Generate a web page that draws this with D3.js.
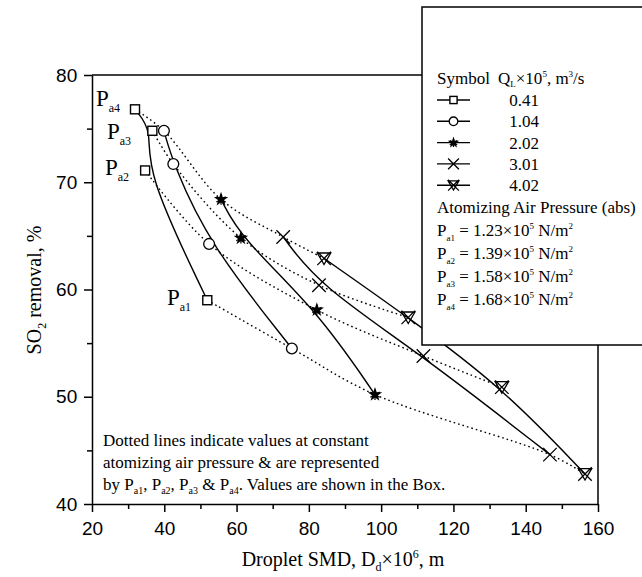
<!DOCTYPE html>
<html>
<head>
<meta charset="utf-8">
<script src="https://cdn.jsdelivr.net/npm/d3@7"></script>
<style>
  body { margin: 0; background: #fff; }
  svg { display: block; }
</style>
</head>
<body>
<div class="canvas"></div>
<script>
// liquid flow rate series (Q_L x 10^5, m3/s)
var flowRates = ["0.41", "1.04", "2.02", "3.01", "4.02"]
var markerTypes = ["square", "circle", "star", "cross", "hourglass"]
// pressure levels, index 0..3 = Pa1..Pa4
var pressureNames = ["a1", "a2", "a3", "a4"]
var pressureValues = ["1.23", "1.39", "1.58", "1.68"]

// droplet SMD (x) and SO2 removal (y), [series][Pa1..Pa4]
var smd = [
  [51.9, 34.7, 36.7, 31.9],
  [75.3, 52.4, 42.5, 39.9],
  [98.3, 82.2, 61.2, 55.7],
  [146.7, 111.7, 82.8, 72.9],
  [156.4, 133.4, 107.5, 84.2]
]
var removal = [
  [59.0, 71.1, 74.8, 76.8],
  [54.5, 64.25, 71.7, 74.8],
  [50.2, 58.1, 64.8, 68.4],
  [44.6, 53.8, 60.4, 64.9],
  [42.8, 50.9, 57.4, 62.9]
]

var xTicks = [20, 40, 60, 80, 100, 120, 140, 160]
var yTicks = [40, 50, 60, 70, 80]

var W = 642, H = 577
var svg = d3.select(".canvas").append("svg").attr("width", W).attr("height", H)

var x = d3.scaleLinear().domain([20, 160]).range([92, 598])
var y = d3.scaleLinear().domain([40, 80]).range([504, 75])

var serif = "'Liberation Serif', 'Times New Roman', serif"
var sans = "'Liberation Sans', Arial, sans-serif"

// frame top + right
svg.append("line").attr("x1", x(20)).attr("x2", x(160)).attr("y1", y(80)).attr("y2", y(80))
  .attr("stroke", "black").attr("stroke-width", 1.5)
svg.append("line").attr("x1", x(160)).attr("x2", x(160)).attr("y1", y(80)).attr("y2", y(40))
  .attr("stroke", "black").attr("stroke-width", 1.5)

// bottom axis
var xAxis = svg.append("g").attr("transform", "translate(0," + y(40) + ")")
  .call(d3.axisBottom(x).tickValues(xTicks).tickSize(8).tickSizeOuter(0).tickFormat(d3.format("d")))
xAxis.selectAll(".tick text").attr("font-family", sans).attr("font-size", 19).attr("dy", "1.05em")
svg.append("g").attr("transform", "translate(0," + y(40) + ")")
  .call(d3.axisBottom(x).tickValues(d3.range(30, 160, 20)).tickSize(5).tickFormat(""))
  .call(g => g.select(".domain").remove())

// left axis
var yAxis = svg.append("g").attr("transform", "translate(" + x(20) + ",0)")
  .call(d3.axisLeft(y).tickValues(yTicks).tickSize(8).tickSizeOuter(0))
yAxis.selectAll(".tick text").attr("font-family", sans).attr("font-size", 19).attr("dx", "-0.2em")
svg.append("g").attr("transform", "translate(" + x(20) + ",0)")
  .call(d3.axisLeft(y).tickValues([45, 55, 65, 75]).tickSize(5).tickFormat(""))
  .call(g => g.select(".domain").remove())

svg.selectAll(".domain, .tick line").attr("stroke-width", 1.5)

// axis titles
var xt = svg.append("text").attr("x", 343).attr("y", 566).attr("text-anchor", "middle")
  .attr("font-family", serif).attr("font-size", 20)
xt.append("tspan").text("Droplet SMD, D")
xt.append("tspan").attr("font-size", 12).attr("dy", 5).text("d")
xt.append("tspan").attr("dy", -5).text("\u00d710")
xt.append("tspan").attr("font-size", 12).attr("dy", -8).text("6")
xt.append("tspan").attr("dy", 8).text(", m")

var yt = svg.append("text").attr("transform", "translate(41,290) rotate(-90)").attr("text-anchor", "middle")
  .attr("font-family", serif).attr("font-size", 20)
yt.append("tspan").text("SO")
yt.append("tspan").attr("font-size", 12).attr("dy", 5).text("2")
yt.append("tspan").attr("dy", -5).text(" removal, %")

// constant-pressure dotted curves
var dotted = d3.line().x(d => x(d[0])).y(d => y(d[1])).curve(d3.curveCatmullRom)
pressureNames.forEach(function(p, j) {
  var pts = flowRates.map((f, i) => [smd[i][j], removal[i][j]])
  svg.append("path").attr("d", dotted(pts)).attr("fill", "none")
    .attr("stroke", "black").attr("stroke-width", 1.4).attr("stroke-dasharray", "1.6,3")
})

// solid fitted curves per flow rate
var solid = d3.line().x(d => x(d[0])).y(d => y(d[1])).curve(d3.curveBasis)
flowRates.forEach(function(f, i) {
  var pts = pressureNames.map((p, j) => [smd[i][j], removal[i][j]]).reverse()
  svg.append("path").attr("d", solid(pts)).attr("fill", "none")
    .attr("stroke", "black").attr("stroke-width", 1.4)
})

// marker drawing
function drawMarker(g, type, s) {
  if (type == "square") {
    g.append("rect").attr("x", -s).attr("y", -s).attr("width", 2 * s).attr("height", 2 * s)
      .attr("fill", "white").attr("stroke", "black").attr("stroke-width", 1.4)
  } else if (type == "circle") {
    g.append("circle").attr("r", s * 1.2).attr("fill", "white").attr("stroke", "black").attr("stroke-width", 1.3)
  } else if (type == "star") {
    g.append("path").attr("d", d3.symbol(d3.symbolStar, s * s * 3.2)()).attr("fill", "black")
    g.append("path").attr("d", d3.symbol(d3.symbolAsterisk, s * s * 4)()).attr("stroke", "black")
      .attr("stroke-width", 1.2)
  } else if (type == "cross") {
    g.append("path").attr("d", "M" + (-s * 1.5) + "," + (-s * 1.5) + "L" + (s * 1.5) + "," + (s * 1.5)
      + "M" + (-s * 1.5) + "," + (s * 1.5) + "L" + (s * 1.5) + "," + (-s * 1.5))
      .attr("stroke", "black").attr("stroke-width", 1.3)
  } else if (type == "hourglass") {
    var k = s * 1.5
    g.append("path").attr("d", "M" + (-k) + "," + (-k) + "L" + k + "," + k
      + "M" + (-k) + "," + k + "L" + k + "," + (-k)
      + "M" + (-k) + "," + (-k * 0.8) + "L" + k + "," + (-k * 0.8) + "L0," + (k * 0.9) + "Z")
      .attr("fill", "none").attr("stroke", "black").attr("stroke-width", 1.3)
  }
}

flowRates.forEach(function(f, i) {
  pressureNames.forEach(function(p, j) {
    var g = svg.append("g").attr("transform", "translate(" + x(smd[i][j]) + "," + y(removal[i][j]) + ")")
    drawMarker(g, markerTypes[i], 4.5)
  })
})

// pressure labels next to the square series
function pLabel(px, py, sub) {
  var t = svg.append("text").attr("x", px).attr("y", py).attr("font-family", serif).attr("font-size", 23)
  t.append("tspan").text("P")
  t.append("tspan").attr("font-size", 12).attr("dy", 6).text(sub)
}
pLabel(96, 106, "a4")
pLabel(107, 139, "a3")
pLabel(105, 175, "a2")
pLabel(167, 305, "a1")

// note text
var noteX = 103
svg.append("text").attr("x", noteX).attr("y", 446).attr("font-family", serif).attr("font-size", 17)
  .text("Dotted lines indicate values at constant")
svg.append("text").attr("x", noteX).attr("y", 468).attr("font-family", serif).attr("font-size", 17)
  .text("atomizing air pressure & are represented")
var n3 = svg.append("text").attr("x", noteX).attr("y", 490).attr("font-family", serif).attr("font-size", 17)
n3.append("tspan").text("by P")
pressureNames.forEach(function(p, j) {
  n3.append("tspan").attr("font-size", 10).attr("dy", 4).text(p)
  var after = j < 2 ? ", P" : (j == 2 ? " & P" : ". Values are shown in the Box.")
  n3.append("tspan").attr("dy", -4).text(after)
})

// legend box
svg.append("rect").attr("x", 422).attr("y", 7).attr("width", 240).attr("height", 338)
  .attr("fill", "white").attr("stroke", "black").attr("stroke-width", 1.5)

var lg = svg.append("g").attr("font-family", serif).attr("font-size", 17)
lg.append("text").attr("x", 437).attr("y", 84).text("Symbol")
var qh = lg.append("text").attr("x", 498).attr("y", 84)
qh.append("tspan").text("Q")
qh.append("tspan").attr("font-size", 9).attr("dy", 3).text("L")
qh.append("tspan").attr("dy", -3).text("\u00d710")
qh.append("tspan").attr("font-size", 9).attr("dy", -7).text("5")
qh.append("tspan").attr("dy", 7).text(", m")
qh.append("tspan").attr("font-size", 9).attr("dy", -7).text("3")
qh.append("tspan").attr("dy", 7).text("/s")

var rowY = d3.scaleLinear().domain([0, 1]).range([100, 121.3])
flowRates.forEach(function(f, i) {
  var cy = rowY(i)
  lg.append("line").attr("x1", 437).attr("x2", 470).attr("y1", cy).attr("y2", cy)
    .attr("stroke", "black").attr("stroke-width", 1.4)
  var g = lg.append("g").attr("transform", "translate(453.5," + cy + ")")
  drawMarker(g, markerTypes[i], 3.6)
  lg.append("text").attr("x", 524).attr("y", cy + 6).attr("text-anchor", "middle").text(f)
})
lg.append("text").attr("x", 437).attr("y", rowY(5) + 6).text("Atomizing Air Pressure (abs)")
pressureNames.forEach(function(p, j) {
  var cy = 230 + j * 23
  var t = lg.append("text").attr("x", 437).attr("y", cy + 6)
  t.append("tspan").text("P")
  t.append("tspan").attr("font-size", 9).attr("dy", 5).text(p)
  t.append("tspan").attr("dy", -5).text(" = " + pressureValues[j] + "\u00d710")
  t.append("tspan").attr("font-size", 9).attr("dy", -7).text("5")
  t.append("tspan").attr("dy", 7).text(" N/m")
  t.append("tspan").attr("font-size", 9).attr("dy", -7).text("2")
})
</script>
</body>
</html>
